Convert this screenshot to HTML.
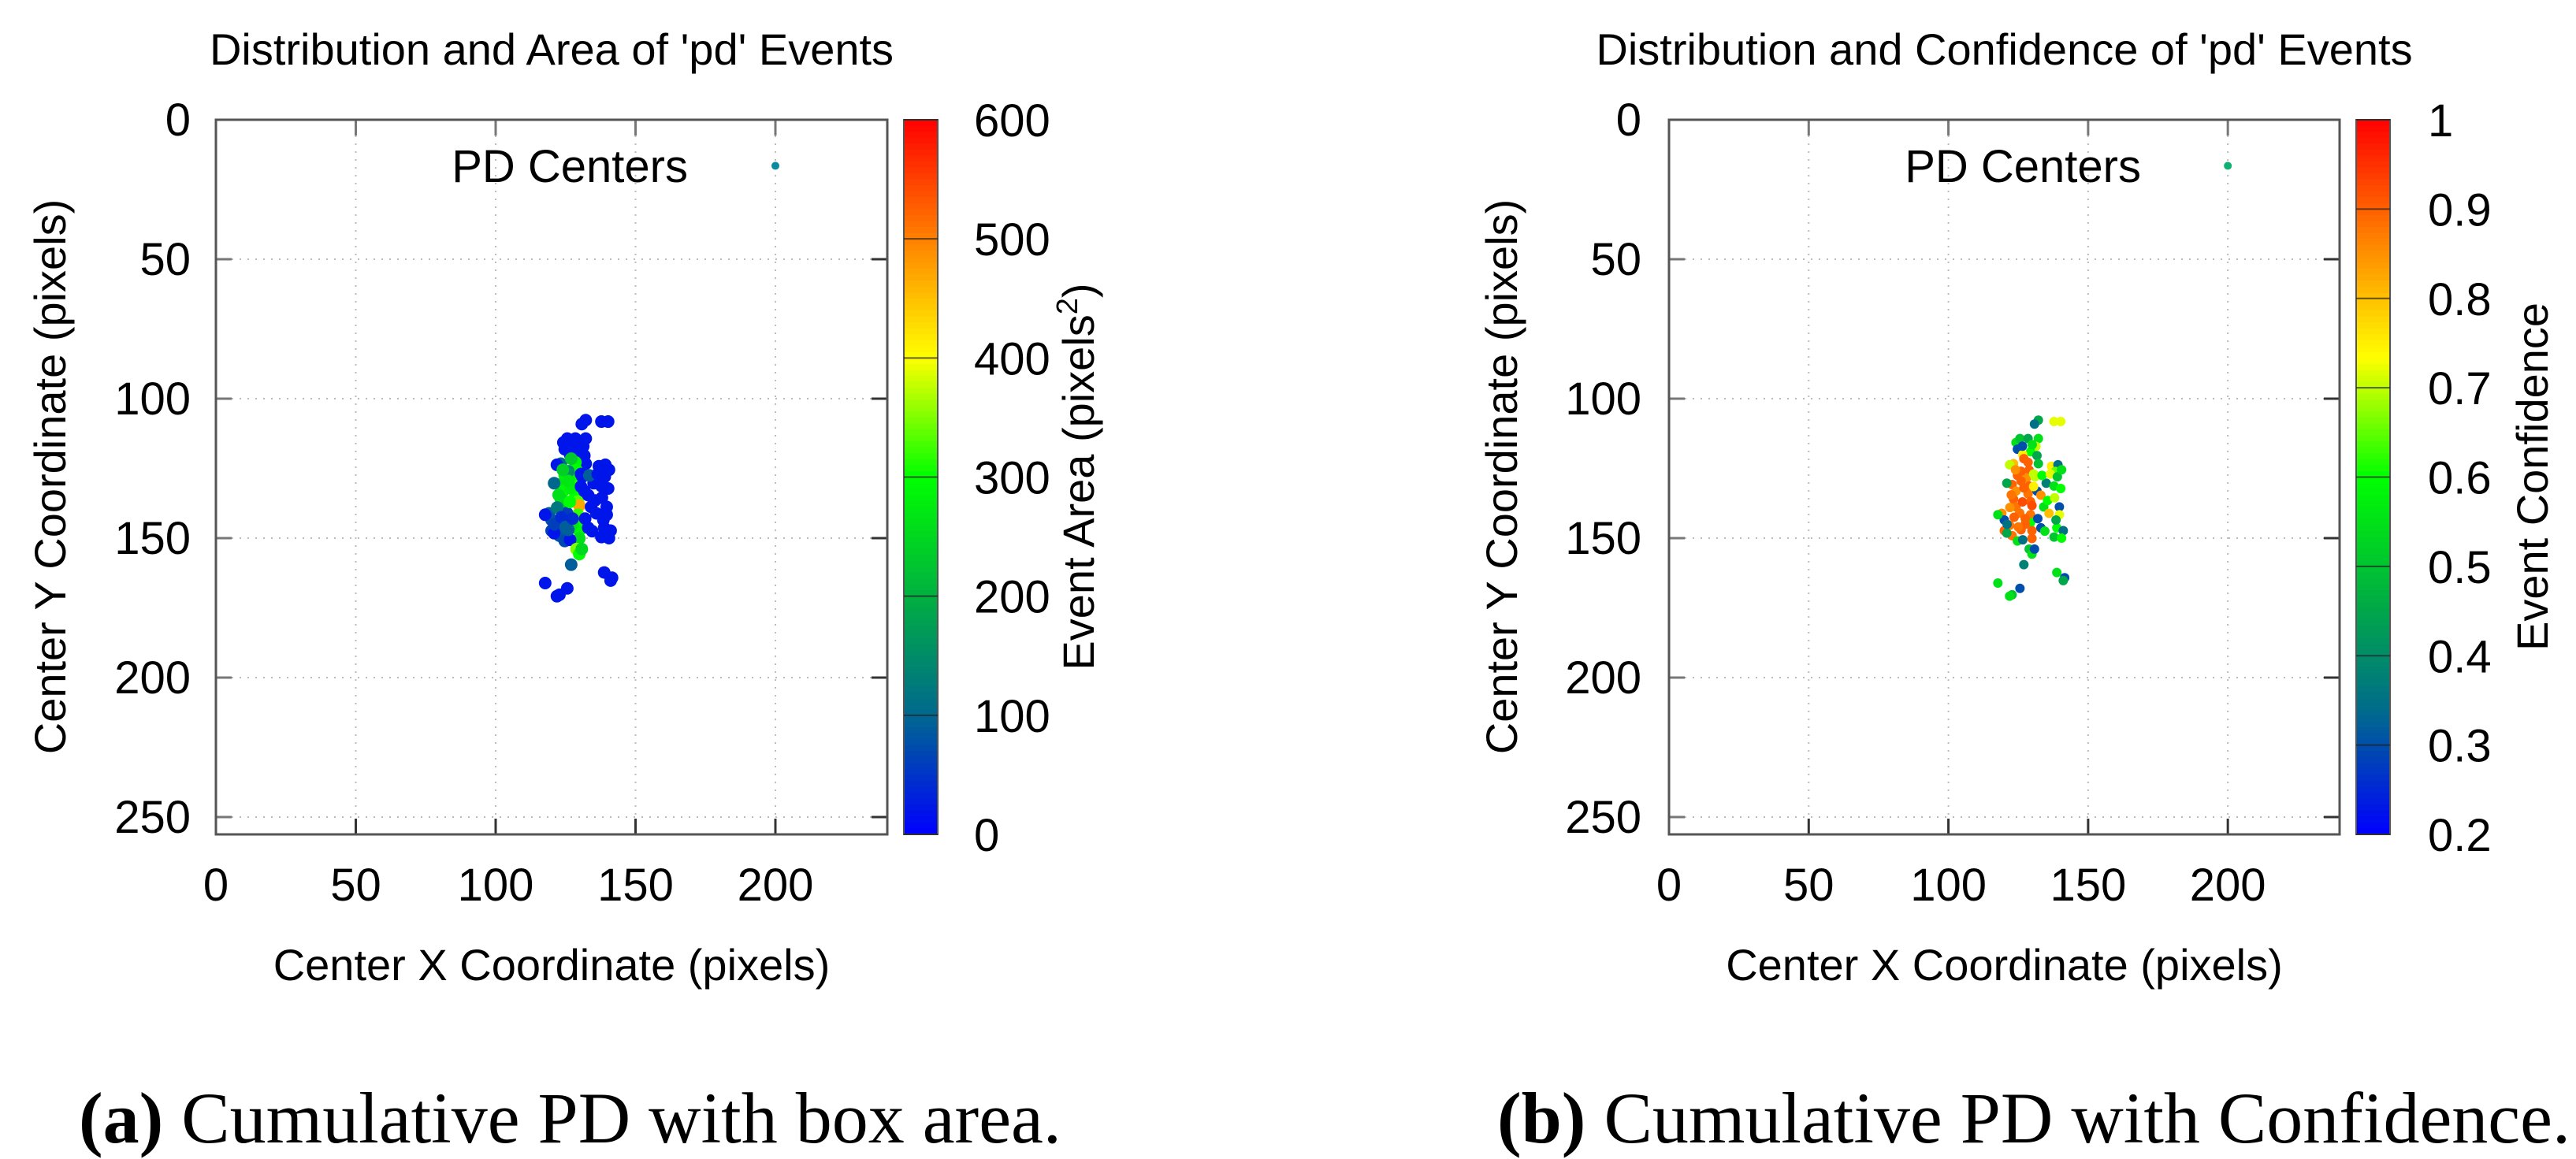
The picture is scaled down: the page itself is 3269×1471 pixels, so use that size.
<!DOCTYPE html>
<html><head><meta charset="utf-8"><style>
html,body{margin:0;padding:0;background:#fff;}
svg{display:block;}
text{font-family:"Liberation Sans",sans-serif;fill:#000;}
.cap{font-family:"Liberation Serif",serif;}
</style></head><body>
<svg id="fig" width="3269" height="1471" viewBox="0 0 3269 1471" xmlns="http://www.w3.org/2000/svg">
<text class="cap" x="100" y="1450" font-size="92"><tspan font-weight="bold">(a)</tspan> Cumulative PD with box area.</text>
<text class="cap" x="1900" y="1450" font-size="92"><tspan font-weight="bold">(b)</tspan> Cumulative PD with Confidence.</text>
</svg>
<script>
// data: center x, center y, area, confidence
const xs = [132.2,130.8,137.8,140.2, 124.2,125.6,128.5,132.2,131.3,124.7,129.4,126.6,131.7, 123.3,121.9,132.2,
 128.5,128.9,128.0,128.9,128.5,129.4,129.9,129.4,129.4,129.9,129.9,
 124.7,122.8,124.2,123.3,124.2, 120.9,
 136.9,139.2,138.3,135.0,137.8,140.2,131.7,133.1,139.7,139.7,134.1,136.0,138.8,141.1,137.8,133.1,
 119.1,120.0,121.9,120.0,122.8,124.7, 117.7,120.9,126.6,
 128.9,129.9,127.0,130.8,
 117.7,122.8,125.6,121.9,138.8,141.6,141.1,
 126.0,127.0,125.5,126.5,127.5,122.0,130.5,126.0,
 126.5,127.0,130.0,131.0,133.5,136.5,139.0,140.5,135.5,138.0,121.0,123.5,125.0,126.0,127.5,130.5,132.0,134.5,138.5,140.5,122.5,124.0];
const ys = [107.7,109.1,108.2,108.2, 115.7,114.3,114.3,114.3,117.1,118.1,119.0,120.0,120.4, 123.3,123.7,123.3,
 122.8,125.6,128.4,131.3,134.1,136.9,138.3,141.6,144.4,147.3,150.1,
 127.5,130.8,133.1,136.0,138.8, 130.3,
 124.2,123.7,126.1,130.3,131.3,132.2,133.1,134.6,138.8,141.6,138.8,141.1,146.3,147.3,149.6,146.3,
 141.1,143.5,145.4,147.3,149.1,151.0, 141.6,148.2,150.6,
 153.9,155.7,159.5,153.9,
 166.1,170.3,168.0,170.8,162.3,164.2,165.2,
 126.0,132.0,141.0,137.0,145.0,139.0,127.0,147.0,
 117.0,121.5,116.5,128.0,127.5,127.0,128.0,125.5,136.5,135.5,145.0,142.5,146.0,129.5,143.0,131.5,143.0,147.5,143.5,150.0,134.5,125.5];
const areas = [20,20,20,20, 20,20,20,20,20,20,20,20,20, 100,20,20,
 290,300,280,310,300,330,470,320,310,290,260,
 280,270,290,260,250, 100,
 20,20,20,20,20,20,20,20,20,20,20,20,20,20,20,20,
 90,80,70,60,80,70, 20,20,20,
 350,300,90,250,
 20,20,20,20,20,20,20,
 150,280,60,300,270,120,20,90,
 20,230,20,20,90,20,20,20,20,20,60,40,90,270,40,20,20,20,20,20,260,240];
const confs = [0.45,0.35,0.72,0.72, 0.55,0.5,0.45,0.55,0.7,0.3,0.6,0.75,0.45, 0.8,0.7,0.5,
 0.9,0.9,0.85,0.9,0.88,0.9,0.92,0.88,0.6,0.9,0.9,
 0.9,0.9,0.85,0.9,0.88, 0.45,
 0.75,0.35,0.65,0.38,0.55,0.6,0.3,0.85,0.3,0.72,0.55,0.8,0.6,0.35,0.5,0.3,
 0.85,0.3,0.88,0.9,0.88,0.55, 0.55,0.45,0.35,
 0.5,0.55,0.38,0.3,
 0.55,0.5,0.3,0.55,0.55,0.3,0.45,
 0.9,0.9,0.88,0.92,0.9,0.85,0.7,0.9,
 0.3,0.9,0.55,0.7,0.6,0.72,0.5,0.55,0.6,0.7,0.35,0.9,0.88,0.9,0.9,0.75,0.3,0.55,0.45,0.6,0.88,0.85];
const xTicks = [0,50,100,150,200];
const yTicks = [0,50,100,150,200,250];
const areaTicks = [0,100,200,300,400,500,600];
const confTicks = [0.2,0.3,0.4,0.5,0.6,0.7,0.8,0.9,1];
const confTickLabels = ['0.2','0.3','0.4','0.5','0.6','0.7','0.8','0.9','1'];
const legendPos = [200,16.5];

const NS='http://www.w3.org/2000/svg';
const svg=document.getElementById('fig');
const stops=[[0,[0,0,255]],[0.1667,[0,104,143]],[0.3333,[0,176,64]],[0.5,[0,255,0]],[0.6667,[255,255,0]],[0.8333,[255,128,0]],[1,[255,0,0]]];
function pal(t){t=Math.max(0,Math.min(1,t));for(let i=1;i<stops.length;i++){if(t<=stops[i][0]){const a=stops[i-1],b=stops[i];const f=(t-a[0])/(b[0]-a[0]);const c=a[1].map((v,k)=>Math.round(v+(b[1][k]-v)*f));return 'rgb('+c.join(',')+')';}}return 'rgb(255,0,0)';}
function mk(tag,attrs,parent){const e=document.createElementNS(NS,tag);for(const k in attrs)e.setAttribute(k,attrs[k]);(parent||svg).appendChild(e);return e;}

function panel(o){
  const g=mk('g',{});
  
  
  const L=o.left,R=o.right,T=152,B=1059;
  const sx=v=>L+(v-0)/240*(R-L);
  const sy=v=>T+(v-0)/256.2*(B-T);
  xTicks.forEach(v=>{if(v>0){const l=mk('line',{x1:sx(v),x2:sx(v),y1:T,y2:B,stroke:'#bbb','stroke-width':2,'stroke-dasharray':'2,8'},g);
    
    }});
  yTicks.forEach(v=>{if(v>0){const l=mk('line',{x1:L,x2:R,y1:sy(v),y2:sy(v),stroke:'#bbb','stroke-width':2,'stroke-dasharray':'2,8'},g);
    
    }});
  xTicks.forEach(v=>{
    mk('line',{x1:sx(v),x2:sx(v),y1:B,y2:B-20,stroke:'#333','stroke-width':3},g);
    mk('line',{x1:sx(v),x2:sx(v),y1:T,y2:T+20,stroke:'#777','stroke-width':3},g);
    const t=mk('text',{x:sx(v),y:1143,'font-size':58,'text-anchor':'middle'},g);t.textContent=v;
    
    
  });
  yTicks.forEach(v=>{
    mk('line',{x1:L,x2:L+20,y1:sy(v),y2:sy(v),stroke:'#777','stroke-width':3},g);
    mk('line',{x1:R,x2:R-20,y1:sy(v),y2:sy(v),stroke:'#333','stroke-width':3},g);
    const t=mk('text',{x:o.ytickX,y:sy(v)+20,'font-size':58,'text-anchor':'end'},g);t.textContent=v;
    
    
  });
  const fr=mk('rect',{x:L,y:T,width:R-L,height:B-T,fill:'none',stroke:'#555','stroke-width':3},g);
  
  
  for(let i=0;i<xs.length;i++){
    const c=mk('circle',{cx:sx(xs[i]),cy:sy(ys[i]),r:o.r,fill:pal(o.norm(o.vals[i]))},g);
    
    
  }
  const lt=mk('text',{x:o.legX,y:231,'font-size':58,'text-anchor':'end'},g);lt.textContent='PD Centers';
  
  
  const ld=mk('circle',{cx:sx(legendPos[0]),cy:sy(legendPos[1]),r:5,fill:o.legC},g);
  
  
  const tt=mk('text',{x:(L+R)/2,y:82,'font-size':56,'text-anchor':'middle'},g);tt.textContent=o.title;
  
  
  const xl=mk('text',{x:(L+R)/2,y:1244,'font-size':56,'text-anchor':'middle'},g);xl.textContent='Center X Coordinate (pixels)';
  
  
  const yl=mk('text',{x:0,y:0,'font-size':56,'text-anchor':'middle',transform:'translate('+(o.ylabX+20)+',605) rotate(-90)'},g);yl.textContent='Center Y Coordinate (pixels)';
  
  
  const cb=mk('g',{},g);
  
  
  const n=120,h=(B-T)/n;
  for(let k=0;k<n;k++){mk('rect',{x:o.cbL,y:T+k*h,width:o.cbR-o.cbL,height:h+0.8,fill:pal(1-(k+0.5)/n)},cb);}
  mk('rect',{x:o.cbL,y:T,width:o.cbR-o.cbL,height:B-T,fill:'none',stroke:'#555','stroke-width':2},cb);
  const cy=v=>B-o.norm(v)*(B-T);
  o.cbTicks.forEach((v,i)=>{
    mk('line',{x1:o.cbL,x2:o.cbR,y1:cy(v),y2:cy(v),stroke:'#222','stroke-width':2,opacity:0.7},cb);
    const t=mk('text',{x:o.cbLabX,y:cy(v)+21,'font-size':58},cb);t.textContent=o.cbLabels[i];
    
    
  });
  const ct=mk('text',{x:0,y:0,'font-size':56,'text-anchor':'middle',transform:'translate('+(o.cbTitleX+20)+',605) rotate(-90)'},cb);
  
  
  if(o.sup){ct.innerHTML='Event Area (pixels<tspan font-size="38" dy="-21">2</tspan><tspan dy="21">)</tspan>';}
  else ct.textContent=o.cbTitle;
}
panel({name:'area-panel',left:274,right:1126,ytickX:242,ylabX:63,cbL:1147,cbR:1190,cbLabX:1236,cbTitleX:1368,
  r:8,vals:areas,norm:v=>v/600,cbTicks:areaTicks,cbLabels:areaTicks.map(String),sup:true,
  title:"Distribution and Area of 'pd' Events",legX:873,legC:'#0a8aa0'});
panel({name:'confidence-panel',left:2118,right:2969,ytickX:2083,ylabX:1905,cbL:2990,cbR:3033,cbLabX:3081,cbTitleX:3213,
  r:6,vals:confs,norm:v=>(v-0.2)/0.8,cbTicks:confTicks,cbLabels:confTickLabels,sup:false,cbTitle:'Event Confidence',
  title:"Distribution and Confidence of 'pd' Events",legX:2717,legC:'#10b070'});
</script>
</body></html>
